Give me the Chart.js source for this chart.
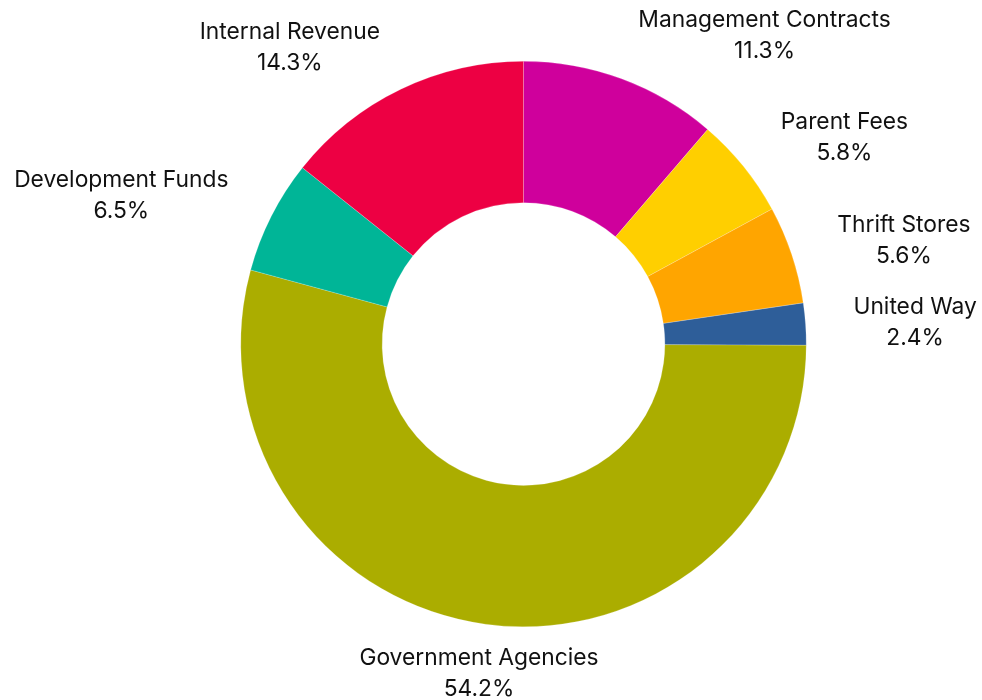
<!DOCTYPE html>
<html>
<head>
<meta charset="utf-8">
<script src="https://cdn.jsdelivr.net/npm/chart.js@4.4.1/dist/chart.umd.min.js"></script>
<style>
  html, body { margin: 0; padding: 0; background: #fff; }
  canvas { display: block; }
</style>
</head>
<body>
<canvas id="revenueChart" width="982" height="700"></canvas>
<script>
// Revenue sources, clockwise from 12 o'clock
const categories = ['Management Contracts', 'Parent Fees', 'Thrift Stores', 'United Way',
                    'Government Agencies', 'Development Funds', 'Internal Revenue'];
const shares = [11.3, 5.8, 5.6, 2.4, 54.2, 6.5, 14.3];
const sliceColors = ['#cf009c', '#ffcf00', '#ffa500', '#2e5e99', '#abad00', '#00b597', '#ed0043'];

const labelFont = '22.8px Inter, "Noto Sans", sans-serif';
const lineGap = 31;

// Outside labels: anchored past the rim, pushed away from the centre line on the sides
const outsideLabels = {
    id: 'outsideLabels',
    afterDraw(chart) {
        const ctx = chart.ctx;
        const meta = chart.getDatasetMeta(0);
        ctx.save();
        ctx.font = labelFont;
        ctx.fillStyle = '#111';
        ctx.textAlign = 'center';
        ctx.textBaseline = 'middle';
        meta.data.forEach((arc, i) => {
            const p = arc.getProps(['x', 'y', 'startAngle', 'endAngle', 'outerRadius'], true);
            const mid = (p.startAngle + p.endAngle) / 2;
            const dx = Math.cos(mid);
            const dy = Math.sin(mid);
            const dist = p.outerRadius + 48;
            const lines = [categories[i], shares[i].toFixed(1) + '%'];
            const w = Math.max(...lines.map(l => ctx.measureText(l).width));
            let cx = p.x + dist * dx;
            if (Math.abs(dx) > 0.25) cx += Math.sign(dx) * w / 2;
            const cy = p.y + dist * dy + 1.5;
            ctx.fillText(lines[0], cx, cy - lineGap / 2);
            ctx.fillText(lines[1], cx, cy + lineGap / 2);
        });
        ctx.restore();
    }
};

new Chart(document.getElementById('revenueChart'), {
    type: 'doughnut',
    data: {
        labels: categories,
        datasets: [{
            data: shares,
            backgroundColor: sliceColors,
            borderColor: 'rgba(255,255,255,0.4)',
            borderWidth: 0.5
        }]
    },
    options: {
        responsive: false,
        animation: false,
        cutout: '50%',
        layout: {
            padding: { left: 240.5, right: 175.5, top: 61, bottom: 73 }
        },
        plugins: {
            legend: { display: false },
            tooltip: { enabled: false }
        }
    },
    plugins: [outsideLabels]
});
</script>
</body>
</html>
